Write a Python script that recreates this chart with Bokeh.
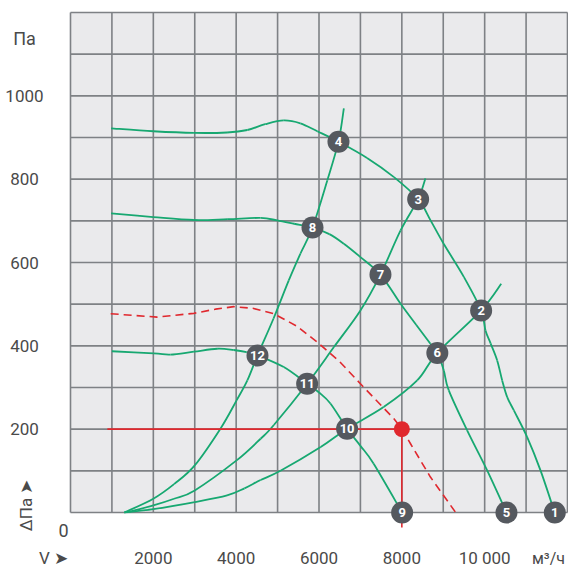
from bokeh.plotting import figure
from bokeh.models import Range1d, ColumnDataSource
from bokeh.core.properties import value
from bokeh.embed import file_html
from bokeh.resources import INLINE
import numpy as np

# ---------------- data ----------------
x_ticks = [2000, 4000, 6000, 8000, 10000]
x_tick_labels = ["2000", "4000", "6000", "8000", "10 000"]
y_ticks = [200, 400, 600, 800, 1000]
y_tick_labels = ["200", "400", "600", "800", "1000"]

fanA_x = [980, 2000, 2980, 3780, 4270, 4700, 5150, 5550, 5960, 6470, 7160, 7810, 8394, 8700, 9010, 9500, 9915, 10020, 10143, 10302, 10423, 10544, 10705, 11026, 11348, 11690]
fanA_y = [922, 915, 911, 912, 918, 932, 941, 934, 915, 890, 851, 805, 752, 700, 645, 565, 485, 437, 406, 365, 317, 277, 245, 181, 101, 0]

fanB_x = [980, 2000, 2980, 3800, 4590, 4990, 5400, 5843, 6250, 6600, 7000, 7484, 7970, 8350, 8690, 8857, 9013, 9134, 9577, 10060, 10527]
fanB_y = [718, 709, 702, 704, 707, 701, 693, 684, 668, 645, 613, 571, 501, 450, 405, 383, 341, 293, 197, 101, 0]

fanC_x = [1000, 2010, 2410, 2980, 3540, 3940, 4250, 4515, 5150, 5714, 6000, 6280, 6679, 7000, 7320, 8007]
fanC_y = [387, 382, 379, 386, 393, 390, 385, 377, 349, 309, 288, 261, 201, 160, 117, 0]

sys1_x = [1300, 2000, 2500, 3000, 3620, 4010, 4270, 4515, 4900, 5270, 5550, 5843, 6200, 6470, 6600]
sys1_y = [0, 33, 68, 113, 201, 269, 317, 377, 465, 557, 621, 684, 797, 890, 970]

sys2_x = [1350, 2000, 2500, 3000, 4010, 4590, 4910, 5714, 6360, 7000, 7484, 7970, 8394, 8570]
sys2_y = [0, 17, 33, 53, 125, 177, 210, 309, 397, 485, 571, 677, 752, 802]

sys3_x = [1300, 2000, 3000, 3780, 4200, 4590, 5070, 6040, 6679, 7560, 8370, 8857, 9915, 10400]
sys3_y = [0, 8, 25, 41, 58, 78, 100, 157, 201, 253, 317, 383, 485, 549]

red_x = [970, 2090, 2980, 3500, 3940, 4400, 4910, 5450, 5960, 6500, 7000, 7810, 8000, 8210, 8690, 9300]
red_y = [477, 469, 478, 488, 494, 490, 477, 448, 409, 362, 309, 225, 200, 165, 85, 0]

op_x = 8000
op_y = 200
op_line_start_x = 890
op_line_end_y = -36

badge_labels = ["1", "2", "3", "4", "5", "6", "7", "8", "9", "10", "11", "12"]
badge_x = [11693, 9915, 8394, 6470, 10526, 8857, 7484, 5843, 8007, 6679, 5714, 4515]
badge_y = [0, 485, 752, 890, 0, 383, 571, 684, 0, 201, 309, 377]

# ---------------- styling ----------------
GREEN = "#17a871"
RED = "#e0282e"
GRID = "#7e8185"
BG = "#eaeaec"
BADGE = "#55595f"
TXT = "#4a4a4a"
FONT = value("Roboto")

X_MAX = 12000
Y_MAX = 1200


def smooth_segments(xs, ys):
    """Catmull-Rom control points so the curve passes through every read point."""
    x = np.asarray(xs, dtype=float)
    y = np.asarray(ys, dtype=float)
    xp = np.concatenate([[x[0]], x, [x[-1]]])
    yp = np.concatenate([[y[0]], y, [y[-1]]])
    n = len(x) - 1
    d = dict(x0=[], y0=[], x1=[], y1=[], cx0=[], cy0=[], cx1=[], cy1=[])
    for i in range(n):
        a, b, c, e = i, i + 1, i + 2, i + 3
        d["x0"].append(xp[b]); d["y0"].append(yp[b])
        d["x1"].append(xp[c]); d["y1"].append(yp[c])
        d["cx0"].append(xp[b] + (xp[c] - xp[a]) / 6)
        d["cy0"].append(yp[b] + (yp[c] - yp[a]) / 6)
        d["cx1"].append(xp[c] - (xp[e] - xp[b]) / 6)
        d["cy1"].append(yp[c] - (yp[e] - yp[b]) / 6)
    return ColumnDataSource(d)


p = figure(width=568, height=568, output_backend="svg", toolbar_location=None,
           x_range=Range1d(-1690, 12024), y_range=Range1d(-134.4, 1228.8),
           min_border=0, min_border_left=0, min_border_right=0,
           min_border_top=0, min_border_bottom=0)
p.axis.visible = False
p.grid.visible = False
p.outline_line_color = None
p.background_fill_color = "white"
p.border_fill_color = "white"

# gray plot area
p.quad(left=[0], right=[X_MAX], bottom=[0], top=[Y_MAX], fill_color=BG, line_color=None)

# grid lines
gx = np.arange(0, X_MAX + 1, 1000)
p.segment(x0=gx, y0=np.zeros_like(gx), x1=gx, y1=np.full_like(gx, Y_MAX),
          line_color=GRID, line_width=1.6)
gy = np.arange(0, Y_MAX + 1, 100)
p.segment(x0=np.zeros_like(gy), y0=gy, x1=np.full_like(gy, X_MAX), y1=gy,
          line_color=GRID, line_width=1.6)

# curves (smooth, through every read point)
for xs, ys in [(fanA_x, fanA_y), (fanB_x, fanB_y), (fanC_x, fanC_y),
               (sys1_x, sys1_y), (sys2_x, sys2_y), (sys3_x, sys3_y)]:
    p.bezier(x0="x0", y0="y0", x1="x1", y1="y1", cx0="cx0", cy0="cy0",
             cx1="cx1", cy1="cy1", source=smooth_segments(xs, ys),
             line_color=GREEN, line_width=1.8)

p.line(red_x, red_y, line_color=RED, line_width=1.6, line_dash="8 5", line_join="round")

# operating point lines
p.line([op_line_start_x, op_x], [op_y, op_y], line_color=RED, line_width=1.6)
p.line([op_x, op_x], [op_y, op_line_end_y], line_color=RED, line_width=1.6)

# badges
bsrc = ColumnDataSource(dict(x=badge_x, y=badge_y, t=badge_labels))
p.scatter("x", "y", source=bsrc, size=22, fill_color=BADGE, line_color=None)
p.text("x", "y", text="t", source=bsrc, text_color="white", text_font=FONT,
       text_font_style="bold", text_font_size="13px", text_align="center",
       text_baseline="middle")

p.scatter([op_x], [op_y], size=16, fill_color=RED, line_color=None)

# tick labels
p.text(x=[-1111] * len(y_ticks), y=y_ticks, text=y_tick_labels, text_color=TXT,
       text_font=FONT, text_font_size="17px", text_align="center", text_baseline="middle")
p.text(x=x_ticks, y=[-110] * len(x_ticks), text=x_tick_labels, text_color=TXT,
       text_font=FONT, text_font_size="17px", text_align="center", text_baseline="middle")

# axis titles / units
p.text(x=[-1111], y=[1138], text=["Па"], text_color=TXT, text_font=FONT,
       text_font_size="18px", text_align="center", text_baseline="middle")
p.text(x=[11541], y=[-110], text=["м³/ч"], text_color=TXT, text_font=FONT,
       text_font_size="16px", text_align="center", text_baseline="middle")
p.text(x=[-169], y=[-43], text=["0"], text_color=TXT, text_font=FONT,
       text_font_size="18px", text_align="center", text_baseline="middle")
p.text(x=[-410], y=[-110], text=["V ➤"], text_color=TXT, text_font=FONT,
       text_font_size="17px", text_align="center", text_baseline="middle")
p.text(x=[-1063], y=[17], text=["ΔПа ➤"], text_color=TXT, text_font=FONT,
       text_font_size="17px", text_align="center", text_baseline="middle",
       angle=np.pi / 2)

open("out.html", "w").write(file_html(p, INLINE))
